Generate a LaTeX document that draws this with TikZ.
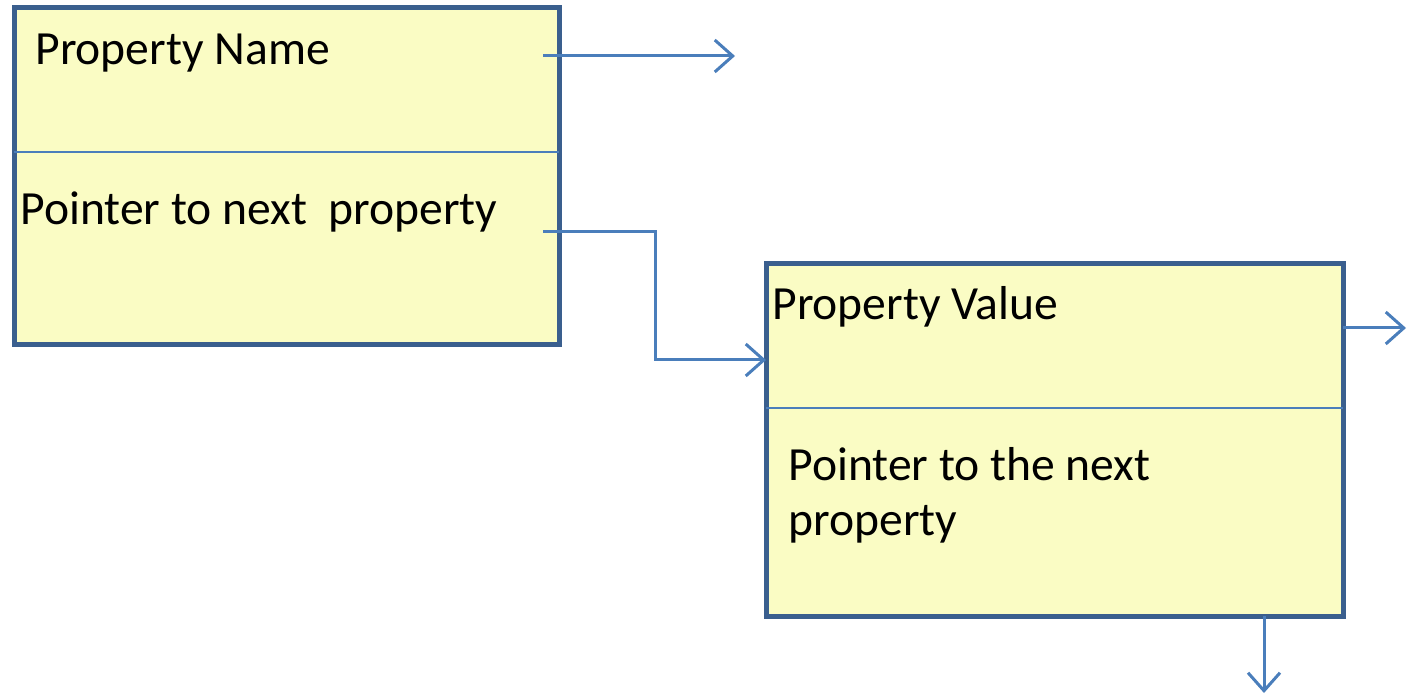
\documentclass[tikz,border=0pt]{standalone}
\usepackage{fontspec}
\setmainfont{Carlito}
\usetikzlibrary{arrows.meta}
\definecolor{boxedge}{HTML}{3A5F8E}
\definecolor{boxfill}{HTML}{FAFCC4}
\definecolor{linkblue}{HTML}{4A7EBB}
\tikzset{
  record/.style={draw=boxedge, fill=boxfill, line width=2.5pt, rectangle, inner sep=0pt, outer sep=0pt},
  divider/.style={draw=linkblue, line width=0.9pt},
  label/.style={anchor=base west, inner sep=0pt, font=\fontsize{23.8pt}{27.5pt}\selectfont, text=black},
  link/.style={draw=linkblue, line width=1.5pt, -{Straight Barb[length=9pt,width=16pt,line width=1.5pt]}}
}
\begin{document}
\begin{tikzpicture}[x=0.5pt, y=-0.5pt]
  \useasboundingbox (0,0) rectangle (1407,694);
  % first record
  \node[record, minimum width=272.5pt, minimum height=168.5pt, anchor=north west] (rec1) at (14,8) {};
  \draw[divider] (rec1.west |- 0,152) coordinate (d1a) -- (rec1.east |- 0,152) coordinate (d1b);
  \node[label] (name) at (35,65) {Property Name};
  \node[label] (next1) at (20,225) {Pointer to next\ \ property};
  % second record
  \node[record, minimum width=288.5pt, minimum height=176pt, anchor=north west] (rec2) at (766,264) {};
  \draw[divider] (rec2.west |- 0,408) coordinate (d2a) -- (rec2.east |- 0,408) coordinate (d2b);
  \node[label] (value) at (772,320) {Property Value};
  % base of a two-line node is the baseline of its last line
  \node[label, align=left] (next2) at (788,535) {Pointer to the next\\property};
  % link ends
  \coordinate (nameout) at (543,56);
  \coordinate (nameend) at (735,56);
  \coordinate (nextout) at (543,232);
  \coordinate (bend) at (655,232);
  \coordinate (valout) at (rec2.east |- 0,328);
  \coordinate (valend) at (1406,328);
  \coordinate (nextdown) at (1264,616);
  \coordinate (downend) at (1264,693);
  % links
  \draw[link] (nameout) -- (nameend);
  \draw[link] (nextout) -- (bend) |- (rec2.west |- 0,360);
  \draw[link] (valout) -- (valend);
  \draw[link] (nextdown) -- (downend);
\end{tikzpicture}
\end{document}
